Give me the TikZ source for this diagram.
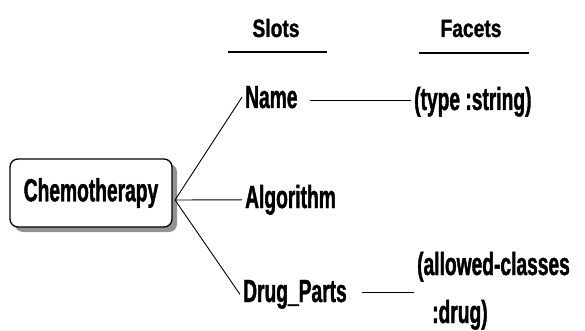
\documentclass[tikz,border=0pt]{standalone}
\usepackage{fontspec}
\setmainfont{Liberation Sans}[FakeStretch=0.6,BoldFeatures={FakeBold=1.2}]
\newfontfamily\hdrfont{Liberation Sans}[FakeStretch=0.77,BoldFeatures={FakeBold=1.2}]
\usetikzlibrary{shadows}
\begin{document}
\begin{tikzpicture}[x=1pt,y=-1pt,
  txt/.style={inner xsep=3pt,inner ysep=1pt,font=\fontsize{32}{38}\selectfont\bfseries,anchor=base west},
  hdr/.style={inner sep=1pt,font=\hdrfont\fontsize{25}{30}\selectfont\bfseries,anchor=base},
  conn/.style={line width=0.9pt},
  rule/.style={line width=1.3pt}]
\useasboundingbox (0,0) rectangle (585,331);
% frame box
\node[draw,line width=1.3pt,rounded corners=8pt,fill=white,
      minimum width=162pt,minimum height=68pt,inner sep=0pt,
      drop shadow={shadow xshift=5pt,shadow yshift=-5pt,fill=gray!85,opacity=1},
      font=\fontsize{32}{38}\selectfont\bfseries] (chemo) at (91,193) {Chemotherapy};
\coordinate (hub) at (175,200);
% headers
\node[hdr] (slots) at (276,37) {Slots};
\node[hdr] (facets) at (471,37) {Facets};
\coordinate (sl1) at (228,52);
\coordinate (sl2) at (327,52);
\coordinate (fa1) at (419,53);
\coordinate (fa2) at (529,53);
\draw[rule] (sl1) -- (sl2);
\draw[rule] (fa1) -- (fa2);
% slots
\node[txt] (name) at (242,108) {Name};
\node[txt] (algo) at (242,208) {Algorithm};
\node[txt] (drug) at (240,302) {Drug\_Parts};
% facets
\node[txt] (type) at (411,110) {(type :string)};
\node[txt] (allowed) at (414,275) {(allowed-classes};
\node[txt] (drugc) at (429,323) {:drug)};
% connectors
\draw[conn] (hub) -- (name.west);
\draw[conn] (hub) -- (algo.west);
\draw[conn] (hub) -- (drug.west);
\draw[conn,shorten <=9pt] ([yshift=8pt]name.base east) -- ([yshift=8pt]name.base east -| type.west);
\draw[conn,shorten <=12pt] ([yshift=10pt]drug.base east) -- ([yshift=10pt]drug.base east -| allowed.west);
\end{tikzpicture}
\end{document}
